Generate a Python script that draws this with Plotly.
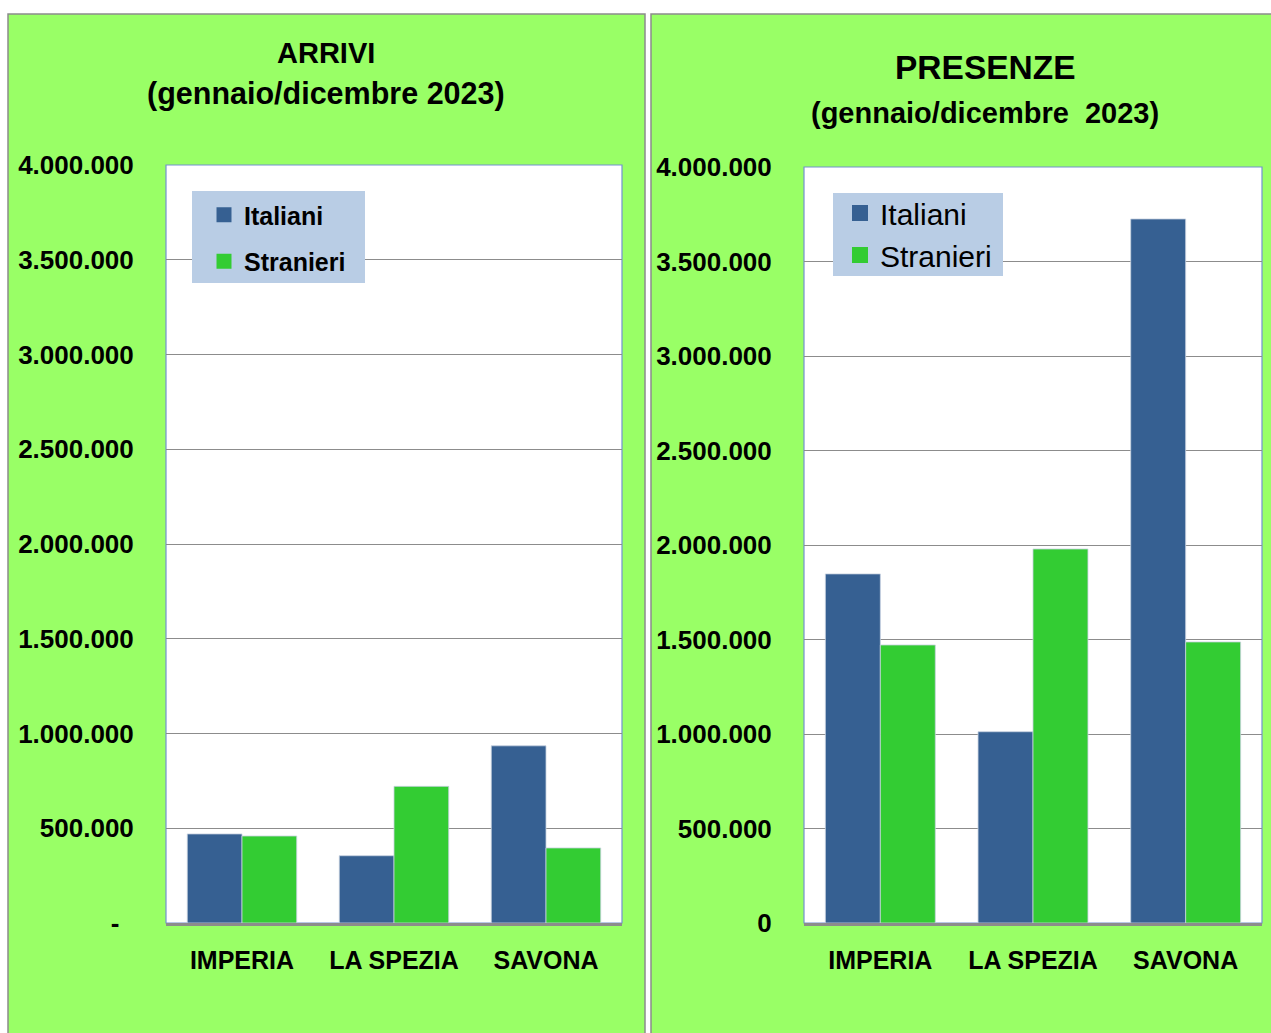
import plotly.graph_objects as go

# Data
province = ["IMPERIA", "LA SPEZIA", "SAVONA"]
arrivi_italiani = [470000, 355000, 935000]
arrivi_stranieri = [459000, 721000, 396000]
presenze_italiani = [1847000, 1012000, 3725000]
presenze_stranieri = [1471000, 1979000, 1487000]
series_names = ["Italiani", "Stranieri"]

tick_vals = [0, 500000, 1000000, 1500000, 2000000, 2500000, 3000000, 3500000, 4000000]
tick_text_arrivi = ["-\u00a0\u00a0", "500.000", "1.000.000", "1.500.000", "2.000.000",
                    "2.500.000", "3.000.000", "3.500.000", "4.000.000"]
tick_text_presenze = ["0", "500.000", "1.000.000", "1.500.000", "2.000.000",
                      "2.500.000", "3.000.000", "3.500.000", "4.000.000"]

W, H = 1271, 1033
BLUE = "#366092"
GREEN = "#33CC33"
PANEL = "#99FF66"
LEG_BG = "#B9CDE5"
FONT = "Liberation Sans, Arial, sans-serif"


def px_x(v):
    return v / W


def px_y(v):
    return 1 - v / H


fig = go.Figure()

bar_line = dict(color="#c8d2e0", width=0.8)
for axis, vals in (("", [arrivi_italiani, arrivi_stranieri]), ("2", [presenze_italiani, presenze_stranieri])):
    for name, v, col in zip(series_names, vals, [BLUE, GREEN]):
        fig.add_trace(go.Bar(x=province, y=v, name=name, marker=dict(color=col, line=bar_line),
                             xaxis="x" + axis, yaxis="y" + axis, showlegend=False))

# legend entries (square markers, sized like the reference)
for leg, size, axis in (("legend", 15, ""), ("legend2", 17, "2")):
    for name, col in zip(series_names, [BLUE, GREEN]):
        fig.add_trace(go.Scatter(x=[None], y=[None], mode="markers", name=name,
                                 marker=dict(symbol="square", size=size, color=col),
                                 xaxis="x" + axis, yaxis="y" + axis, legend=leg,
                                 legendgroup=leg + name, hoverinfo="skip"))

xaxis_common = dict(showgrid=False, showline=True, linecolor="#8c8c8c", linewidth=2.5,
                    ticks="outside", ticklen=13, tickcolor="rgba(0,0,0,0)", automargin=False,
                    tickfont=dict(family=FONT, size=25, color="black", weight="bold"), fixedrange=True)
yaxis_common = dict(range=[0, 4000000], tickvals=tick_vals, showgrid=True, gridcolor="#8c8c8c",
                    gridwidth=1, zeroline=False, showline=False, ticks="outside", ticklen=26,
                    tickcolor="rgba(0,0,0,0)", automargin=False,
                    tickfont=dict(family=FONT, size=26, color="black", weight="bold"), fixedrange=True)

fig.update_layout(
    width=W, height=H,
    margin=dict(l=0, r=0, t=0, b=0),
    paper_bgcolor="white",
    plot_bgcolor="white",
    barmode="group",
    bargap=0.28,
    bargroupgap=0,
    xaxis=dict(domain=[px_x(166), px_x(622)], anchor="y", **xaxis_common),
    yaxis=dict(domain=[px_y(923), px_y(165)], anchor="x", ticktext=tick_text_arrivi, **yaxis_common),
    xaxis2=dict(domain=[px_x(804), px_x(1262)], anchor="y2", **xaxis_common),
    yaxis2=dict(domain=[px_y(923), px_y(167)], anchor="x2", ticktext=tick_text_presenze, **yaxis_common),
    legend=dict(x=px_x(204), y=px_y(192), xanchor="left", yanchor="top", bgcolor="rgba(0,0,0,0)",
                font=dict(family=FONT, size=25, color="black", weight="bold"),
                traceorder="grouped", tracegroupgap=11, itemclick=False, itemdoubleclick=False,
                itemsizing="trace"),
    legend2=dict(x=px_x(840), y=px_y(187), xanchor="left", yanchor="top", bgcolor="rgba(0,0,0,0)",
                 font=dict(family=FONT, size=30, color="black"),
                 traceorder="grouped", tracegroupgap=0, itemclick=False, itemdoubleclick=False,
                 itemsizing="trace"),
    showlegend=True,
    shapes=[
        dict(type="rect", xref="paper", yref="paper", x0=px_x(8), x1=px_x(645), y0=-0.02, y1=px_y(14),
             fillcolor=PANEL, line=dict(color="#8c8c8c", width=1.5), layer="below"),
        dict(type="rect", xref="paper", yref="paper", x0=px_x(651), x1=1.02, y0=-0.02, y1=px_y(14),
             fillcolor=PANEL, line=dict(color="#8c8c8c", width=1.5), layer="below"),
        dict(type="rect", xref="x domain", yref="y domain", x0=0, x1=1, y0=0, y1=1,
             line=dict(color="#7392cf", width=1.2), layer="below", fillcolor="white"),
        dict(type="rect", xref="x2 domain", yref="y2 domain", x0=0, x1=1, y0=0, y1=1,
             line=dict(color="#7392cf", width=1.2), layer="below", fillcolor="white"),
        # legend boxes
        dict(type="rect", xref="paper", yref="paper", x0=px_x(192), x1=px_x(365), y0=px_y(283), y1=px_y(191),
             fillcolor=LEG_BG, line=dict(width=0), layer="above"),
        dict(type="rect", xref="paper", yref="paper", x0=px_x(833), x1=px_x(1003), y0=px_y(276), y1=px_y(193),
             fillcolor=LEG_BG, line=dict(width=0), layer="above"),
    ],
    annotations=[
        dict(text="<b>ARRIVI</b>", xref="paper", yref="paper", x=px_x(326), y=px_y(53),
             xanchor="center", yanchor="middle", showarrow=False, font=dict(family=FONT, size=29, color="black")),
        dict(text="<b>(gennaio/dicembre 2023)</b>", xref="paper", yref="paper", x=px_x(326), y=px_y(93),
             xanchor="center", yanchor="middle", showarrow=False, font=dict(family=FONT, size=30.5, color="black")),
        dict(text="<b>PRESENZE</b>", xref="paper", yref="paper", x=px_x(985), y=px_y(67),
             xanchor="center", yanchor="middle", showarrow=False, font=dict(family=FONT, size=33.5, color="black")),
        dict(text="<b>(gennaio/dicembre  2023)</b>", xref="paper", yref="paper", x=px_x(985), y=px_y(113),
             xanchor="center", yanchor="middle", showarrow=False, font=dict(family=FONT, size=29, color="black")),
    ],
)

# drop the default page margin so the figure fills the window exactly
fig.write_html("out.html", config={"displayModeBar": False},
               post_script="document.body.style.margin='0';document.body.style.overflow='hidden';")
